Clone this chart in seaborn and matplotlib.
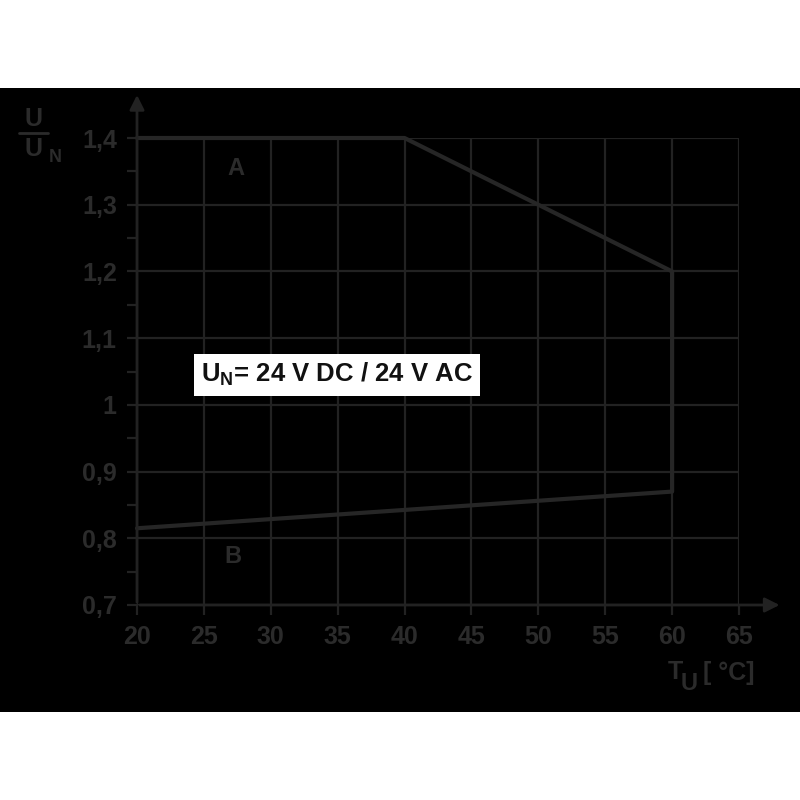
import seaborn as sns
import matplotlib.pyplot as plt
import pandas as pd
from matplotlib.patches import Rectangle
from matplotlib.lines import Line2D
from matplotlib.ticker import MultipleLocator

sns.set_theme(style="ticks")
plt.rcParams['font.family'] = ['Liberation Sans', 'DejaVu Sans']
plt.rcParams['font.weight'] = 'bold'
plt.rcParams['mathtext.fontset'] = 'custom'
plt.rcParams['mathtext.rm'] = 'Liberation Sans:bold'
plt.rcParams['mathtext.bf'] = 'Liberation Sans:bold'
plt.rcParams['mathtext.it'] = 'Liberation Sans:bold'

# operating range boundary (ambient temp vs U/UN)
temps = [20, 40, 60, 60, 20]
ratios = [1.4, 1.4, 1.2, 0.87, 0.815]
x_ticks = [20, 25, 30, 35, 40, 45, 50, 55, 60, 65]
y_ticks = [0.7, 0.8, 0.9, 1.0, 1.1, 1.2, 1.3, 1.4]
y_labels = ["0,7", "0,8", "0,9", "1", "1,1", "1,2", "1,3", "1,4"]

df = pd.DataFrame({"T": temps, "U": ratios})

txt = "#2b2b2b"
grid = "#222222"
bold = dict(fontweight="bold")

fig = plt.figure(figsize=(8, 8), dpi=100, facecolor="white")
fig.patches.append(Rectangle((0, 1 - 712 / 800), 1, 624 / 800, transform=fig.transFigure,
                             facecolor="black", edgecolor="none", zorder=-10))
ax = fig.add_axes([137 / 800, 1 - 605 / 800, 602 / 800, 467 / 800])
ax.set_zorder(1)
ax.set_facecolor("black")

sns.lineplot(data=df, x="T", y="U", sort=False, estimator=None, color="#262626",
             lw=3, ax=ax, zorder=3, clip_on=False)

ax.set_xlim(20, 65)
ax.set_ylim(0.7, 1.4)
ax.set_xticks(x_ticks)
ax.set_yticks(y_ticks)
ax.set_yticklabels(y_labels)
ax.yaxis.set_minor_locator(MultipleLocator(0.05))
ax.grid(True, color=grid, lw=1.6)
ax.tick_params(axis="both", which="both", color=grid, width=1.6, length=7.5,
               labelcolor=txt, labelsize=18, pad=7)
for lab in ax.get_xticklabels() + ax.get_yticklabels():
    lab.set_fontweight("bold")
for s in ax.spines.values():
    s.set_visible(False)
ax.set_xlabel("")
ax.set_ylabel("")

# axes with arrows
ax.annotate("", xy=(0, 1.098), xytext=(0, 0), xycoords="axes fraction",
            arrowprops=dict(arrowstyle="-|>", color=grid, lw=2, mutation_scale=22),
            annotation_clip=False)
ax.annotate("", xy=(1.072, 0), xytext=(0, 0), xycoords="axes fraction",
            arrowprops=dict(arrowstyle="-|>", color=grid, lw=2, mutation_scale=22),
            annotation_clip=False)

ax.text(27.4, 1.355, "A", color=txt, fontsize=17, ha="center", va="center", **bold)
ax.text(27.2, 0.773, "B", color=txt, fontsize=17, ha="center", va="center", **bold)

ax.text(34.95, 1.045, r"U$_\mathrm{N}$= 24 V DC / 24 V AC", color="#111111", fontsize=18.5,
        ha="center", va="center", zorder=5, **bold,
        bbox=dict(boxstyle="square,pad=0.28", facecolor="white", edgecolor="none"))

# y label: U / U_N
fig.text(33 / 800, 1 - 119 / 800, "U", color=txt, fontsize=18, ha="center", va="center", **bold)
fig.lines.append(Line2D([19 / 800, 48 / 800], [1 - 133 / 800, 1 - 133 / 800],
                        transform=fig.transFigure, color=txt, lw=2))
fig.text(33 / 800, 1 - 149 / 800, "U", color=txt, fontsize=18, ha="center", va="center", **bold)
fig.text(55 / 800, 1 - 157 / 800, "N", color=txt, fontsize=13, ha="center", va="center", **bold)

# x label: T_U [ °C]
fig.text(675 / 800, 1 - 672 / 800, "T", color=txt, fontsize=18, ha="center", va="center", **bold)
fig.text(689 / 800, 1 - 684 / 800, "U", color=txt, fontsize=17, ha="center", va="center", **bold)
fig.text(703 / 800, 1 - 673 / 800, "[ \u00b0C]", color=txt, fontsize=18, ha="left", va="center", **bold)

fig.savefig("out.png", dpi=100, facecolor="white")
